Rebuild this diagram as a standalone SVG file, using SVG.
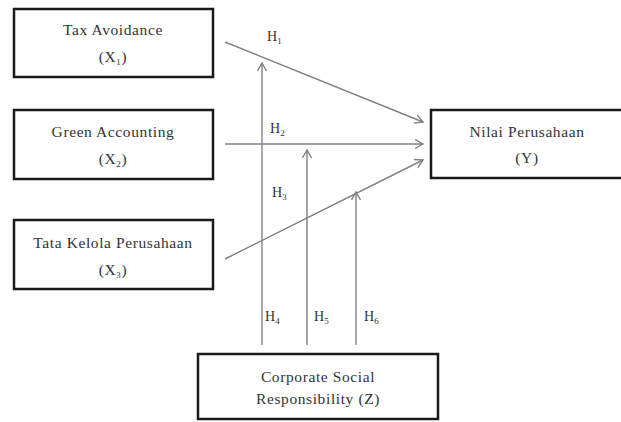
<svg xmlns="http://www.w3.org/2000/svg" width="621" height="422" viewBox="0 0 621 422">
<style>
.box{fill:#fff;stroke:#1a1a1a;stroke-width:2.5}
.t{font-family:"Liberation Serif","Times New Roman",serif;font-size:15.5px;letter-spacing:0.6px;fill:#333;text-anchor:middle}
.h{font-family:"Liberation Serif","Times New Roman",serif;font-size:14px;fill:#333}
.sub{font-size:9px}
.c{stroke:#808080;stroke-width:1.4;fill:none}
</style>
<defs>
<marker id="arr" markerUnits="userSpaceOnUse" markerWidth="12" markerHeight="12" refX="9" refY="5" orient="auto">
<path d="M1,0.5 L9,5 L1,9.5" fill="none" stroke="#808080" stroke-width="1.4"/>
</marker>
</defs>
<rect width="621" height="422" fill="#fff"/>
<g id="connectors">
<line class="c" x1="225" y1="42" x2="423" y2="122" marker-end="url(#arr)"/>
<line class="c" x1="225" y1="144" x2="423" y2="144" marker-end="url(#arr)"/>
<line class="c" x1="225" y1="259" x2="423" y2="160" marker-end="url(#arr)"/>
<line class="c" x1="262" y1="345" x2="262" y2="63" marker-end="url(#arr)"/>
<line class="c" x1="307" y1="345" x2="307" y2="150" marker-end="url(#arr)"/>
<line class="c" x1="356" y1="345" x2="356" y2="192" marker-end="url(#arr)"/>
<text class="h" x="267" y="41">H<tspan class="sub" dy="3">1</tspan></text>
<text class="h" x="270" y="133">H<tspan class="sub" dy="3">2</tspan></text>
<text class="h" x="272" y="197">H<tspan class="sub" dy="3">3</tspan></text>
<text class="h" x="265" y="321">H<tspan class="sub" dy="3">4</tspan></text>
<text class="h" x="314" y="321">H<tspan class="sub" dy="3">5</tspan></text>
<text class="h" x="364" y="321">H<tspan class="sub" dy="3">6</tspan></text>
</g>
<g id="x1">
<rect class="box" x="14" y="9" width="199" height="68"/>
<text class="t" x="113" y="35">Tax Avoidance</text>
<text class="t" x="113" y="62">(X<tspan class="sub" dy="3">1</tspan><tspan dy="-3">)</tspan></text>
</g>
<g id="x2">
<rect class="box" x="14" y="110" width="199" height="69"/>
<text class="t" x="113" y="137">Green Accounting</text>
<text class="t" x="113" y="164">(X<tspan class="sub" dy="3">2</tspan><tspan dy="-3">)</tspan></text>
</g>
<g id="x3">
<rect class="box" x="14" y="220" width="199" height="69"/>
<text class="t" x="113" y="248">Tata Kelola Perusahaan</text>
<text class="t" x="113" y="275">(X<tspan class="sub" dy="3">3</tspan><tspan dy="-3">)</tspan></text>
</g>
<g id="y">
<rect class="box" x="431" y="110" width="192" height="68"/>
<text class="t" x="527" y="137">Nilai Perusahaan</text>
<text class="t" x="527" y="163">(Y)</text>
</g>
<g id="z">
<rect class="box" x="198" y="354" width="240" height="65"/>
<text class="t" x="318" y="382">Corporate Social</text>
<text class="t" x="318" y="404">Responsibility (Z)</text>
</g>
</svg>
